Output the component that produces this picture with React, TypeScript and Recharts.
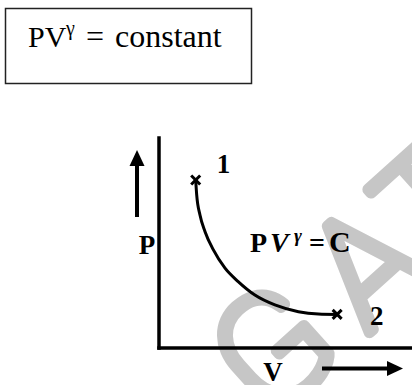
import { ComposedChart, Line, Scatter, XAxis, YAxis, Customized } from 'recharts';

// adiabatic process curve (V, P in arbitrary units)
const volume = [1.45, 1.49, 1.62, 1.82, 2.15, 2.61, 3.13, 3.79, 4.58, 5.51, 6.3, 7.04];
const pressure = [8.0, 7.29, 6.33, 5.54, 4.67, 3.8, 3.16, 2.52, 2.05, 1.73, 1.62, 1.6];
const stateNames = ['1', '2'];
const stateIndex = [0, 11];

const curve = volume.map((v, i) => ({ v, p: pressure[i] }));
const states = stateIndex.map((idx, i) => ({ v: volume[idx], p: pressure[idx], name: stateNames[i] }));

const labelOffset: Record<string, { dx: number; dy: number }> = {
    '1': { dx: 21, dy: -7 },
    '2': { dx: 33, dy: 11 },
};

const serif = '"Liberation Serif", "Times New Roman", serif';
const W = 412;
const H = 385;

function StateMark(props: any) {
    const { cx, cy, payload } = props;
    const off = labelOffset[payload.name];
    const s = 4.5;
    return (
        <g>
            <line x1={cx - s} y1={cy - s} x2={cx + s} y2={cy + s} stroke="#000" strokeWidth={3} />
            <line x1={cx - s} y1={cy + s} x2={cx + s} y2={cy - s} stroke="#000" strokeWidth={3} />
            <text x={cx + off.dx} y={cy + off.dy} fontFamily={serif} fontWeight="bold" fontSize={27} fill="#000">
                {payload.name}
            </text>
        </g>
    );
}

function Decorations() {
    return (
        <g>
            {/* equation box */}
            <rect x={5.5} y={8.5} width={246} height={75} fill="none" stroke="#222" strokeWidth={1.5} />
            <text x={28} y={46.5} fontFamily={serif} fontSize={32} fill="#000">
                <tspan fontSize={30}>PV</tspan>
                <tspan x={66} dy={-12} fontSize={20}>γ</tspan>
                <tspan x={86} dy={12}>=</tspan>
                <tspan x={115}>constant</tspan>
            </text>

            {/* up arrow next to P */}
            <line x1={137} y1={217} x2={137} y2={162} stroke="#000" strokeWidth={4} />
            <polygon points="137,150 129.5,166 144.5,166" fill="#000" />
            <text x={147} y={254} textAnchor="middle" fontFamily={serif} fontWeight="bold" fontSize={27}>P</text>

            {/* right arrow next to V */}
            <line x1={322} y1={368.5} x2={390} y2={368.5} stroke="#000" strokeWidth={4} />
            <polygon points="403,368.5 387,361 387,376" fill="#000" />
            <text x={273} y={381} textAnchor="middle" fontFamily={serif} fontWeight="bold" fontSize={27}>V</text>

            {/* curve annotation */}
            <text y={252} fontFamily={serif} fontWeight="bold" fontSize={28} fill="#000">
                <tspan x={250}>P</tspan>
                <tspan x={270} fontStyle="italic">V</tspan>
                <tspan x={294} dy={-10} fontSize={19} fontStyle="italic">γ</tspan>
                <tspan x={309} dy={10}>=</tspan>
                <tspan x={329} fontSize={30}>C</tspan>
            </text>
        </g>
    );
}

export default function App() {
    return (
        <div style={{ position: 'absolute', left: 0, top: 0, width: W, height: H, background: '#fff' }}>
            {/* watermark behind the chart */}
            <svg width={W} height={H} style={{ position: 'absolute', left: 0, top: 0 }}>
                <text
                    transform="rotate(-42)"
                    y={494}
                    fontFamily="Roboto, sans-serif"
                    fontWeight={100}
                    fontSize={150}
                    fill="#c6c6c6"
                    stroke="#c6c6c6"
                    strokeWidth={12}
                    strokeLinejoin="round"
                    strokeLinecap="round"
                >
                    <tspan x={-82}>G</tspan>
                    <tspan x={50}>A</tspan>
                    <tspan x={143}>T</tspan>
                    <tspan x={254}>E</tspan>
                </text>
            </svg>
            <div style={{ position: 'absolute', left: 0, top: 0 }}>
                <ComposedChart
                    width={W}
                    height={H}
                    data={curve}
                    margin={{ top: 138, right: 0, left: 158, bottom: 36 }}
                >
                    <XAxis
                        type="number"
                        dataKey="v"
                        domain={[0, 10]}
                        height={1}
                        tick={false}
                        tickLine={false}
                        axisLine={{ stroke: '#000', strokeWidth: 3.5, strokeLinecap: 'square' }}
                    />
                    <YAxis
                        type="number"
                        dataKey="p"
                        domain={[0, 10]}
                        width={1}
                        tick={false}
                        tickLine={false}
                        axisLine={{ stroke: '#000', strokeWidth: 3.5, strokeLinecap: 'square' }}
                    />
                    <Line
                        type="monotone"
                        dataKey="p"
                        stroke="#000"
                        strokeWidth={3}
                        dot={false}
                        activeDot={false}
                        isAnimationActive={false}
                    />
                    <Scatter data={states} shape={StateMark} isAnimationActive={false} />
                    <Customized component={Decorations} />
                </ComposedChart>
            </div>
        </div>
    );
}
